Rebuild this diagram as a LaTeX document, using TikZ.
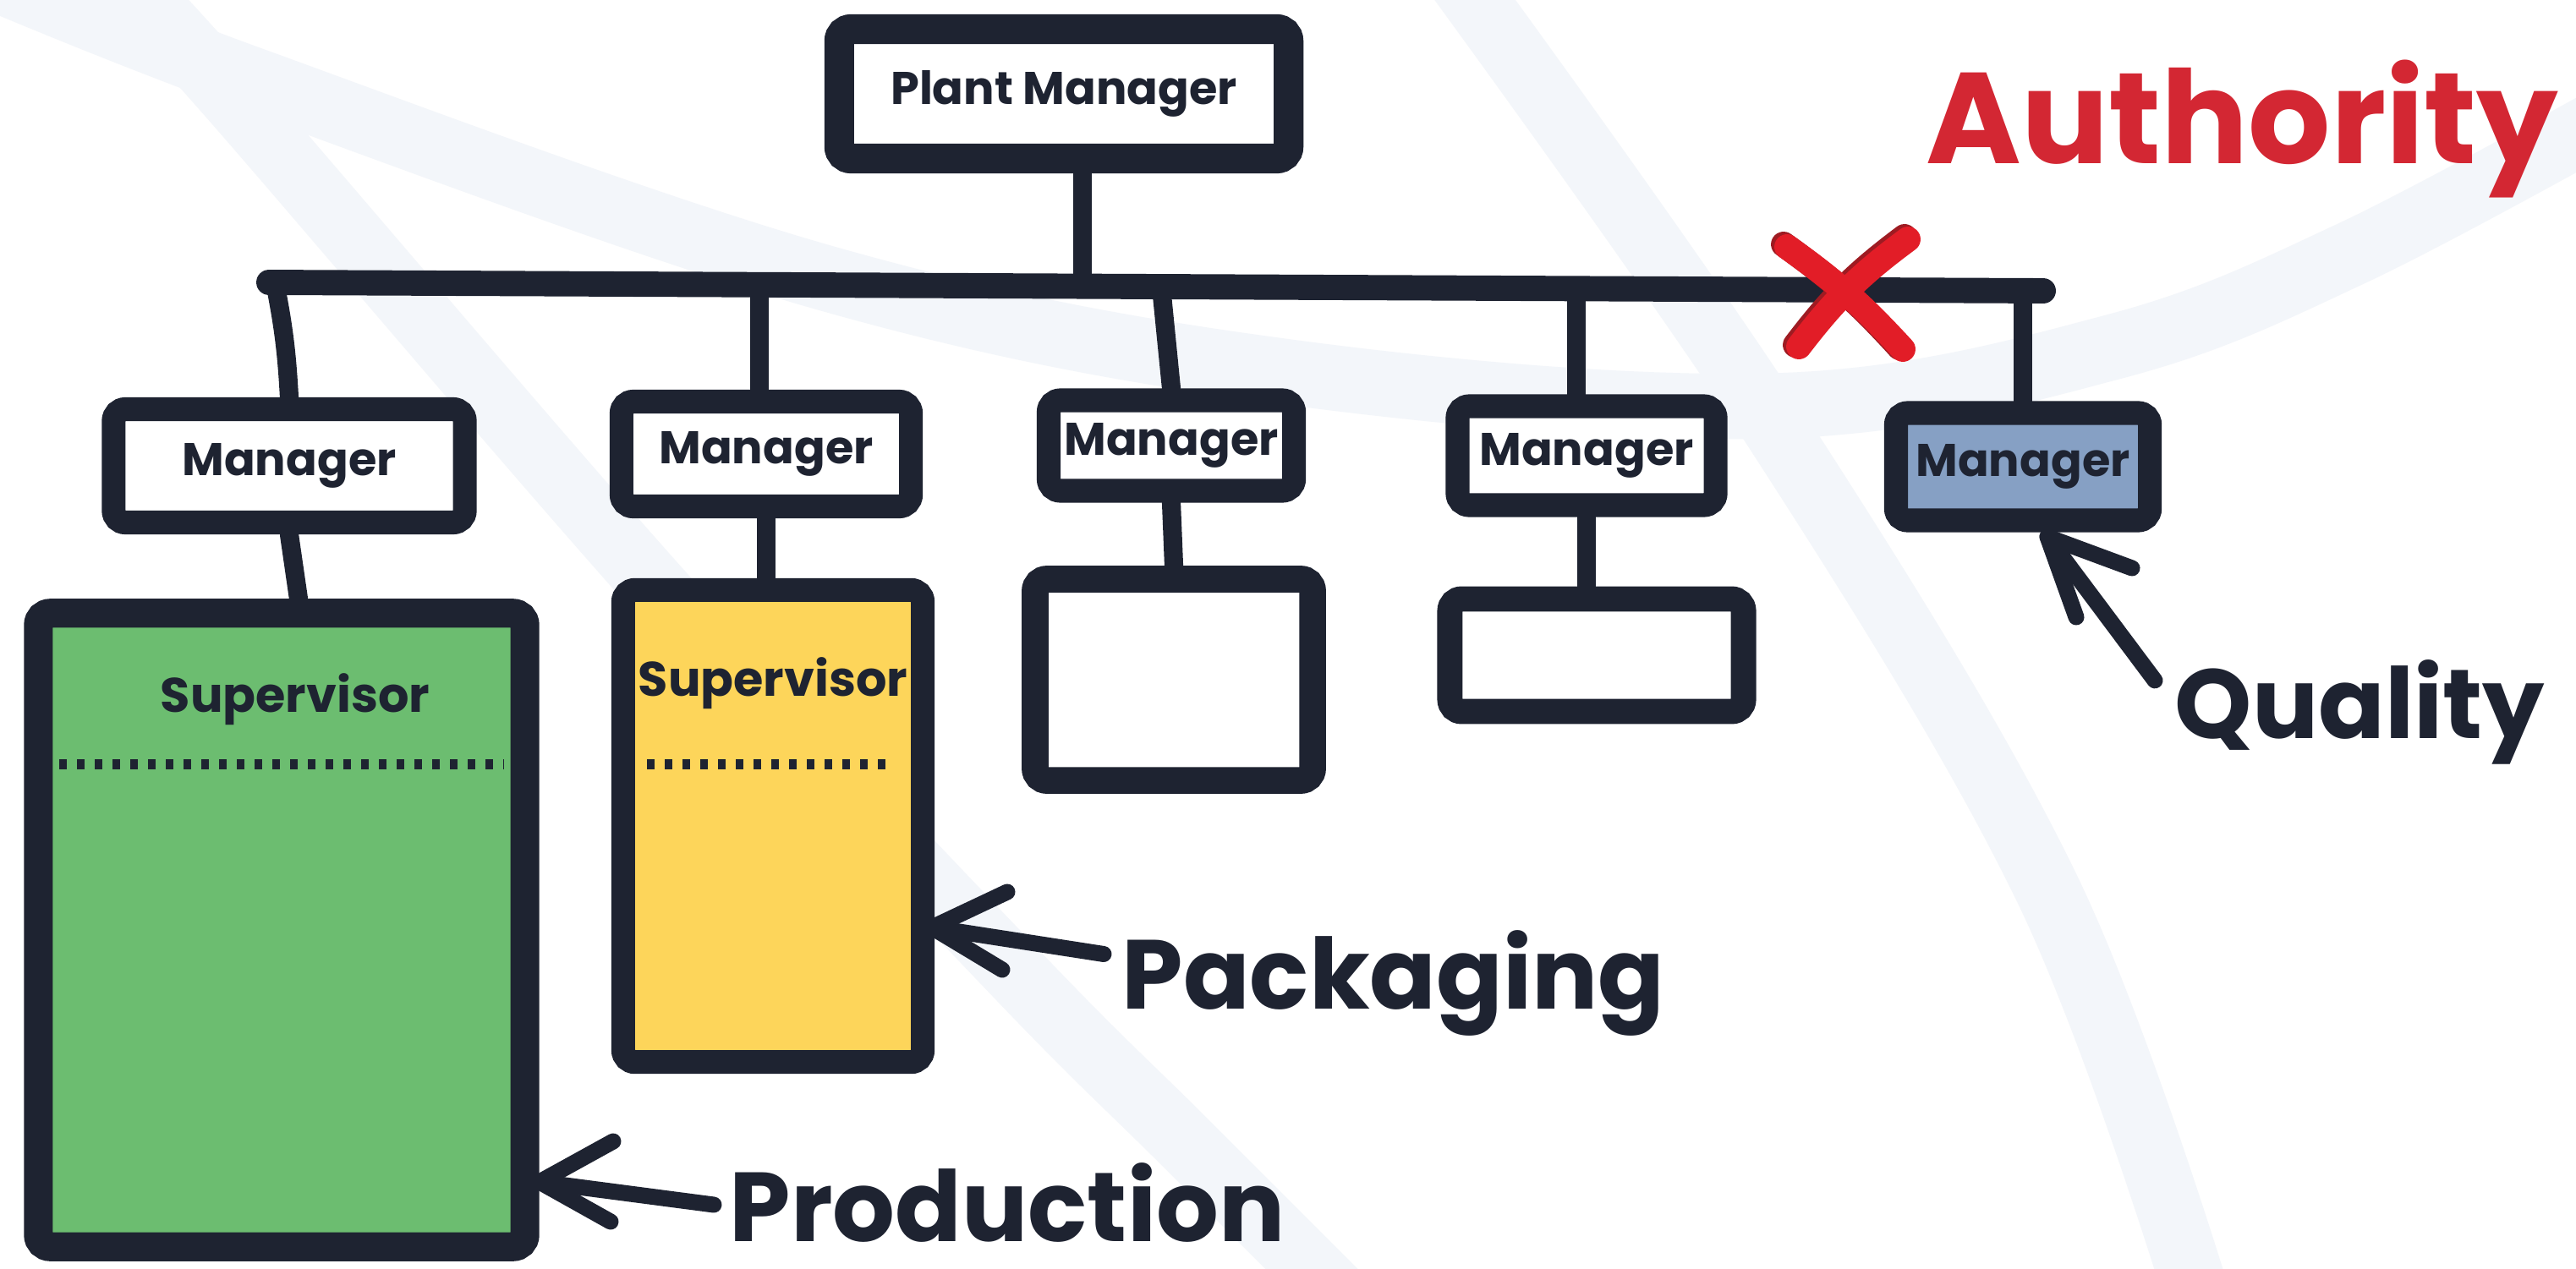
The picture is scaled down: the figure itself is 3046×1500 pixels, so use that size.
\documentclass[tikz,border=0pt]{standalone}
\usepackage{fontspec}
\setmainfont{Poppins}

\definecolor{ink}{HTML}{1E2331}
\definecolor{haze}{HTML}{F3F6FA}
\definecolor{prodgreen}{HTML}{6CBD70}
\definecolor{packyellow}{HTML}{FDD55A}
\definecolor{qualblue}{HTML}{86A0C4}
\definecolor{authred}{HTML}{D32733}
\definecolor{crossred}{HTML}{E21D27}
\definecolor{crossdark}{HTML}{9E1B22}

\begin{document}
\begin{tikzpicture}[x=0.01cm, y=-0.01cm,
        box/.style={draw=ink, fill=white, line width=8pt, rounded corners=4pt, inner sep=0pt,
            text=ink, font=\bfseries\fontsize{15.4}{18}\selectfont},
        suptext/.style={text=ink, inner sep=0pt, anchor=base, font=\bfseries\fontsize{16.3}{19}\selectfont},
        stem/.style={draw=ink, line width=6.3pt, line cap=round},
        bus/.style={draw=ink, line width=8.5pt, line cap=round},
        pointer/.style={draw=ink, line width=5.4pt, line cap=round, line join=round},
        tag/.style={text=ink, inner sep=0pt, anchor=base west, font=\bfseries\fontsize{33}{38}\selectfont},
        divider/.style={draw=ink, line width=3.4pt, dash pattern=on 0.09cm off 0.12cm},
        band/.style={draw=haze, line width=22pt},
        cross/.style={line width=8.5pt, line cap=round}]
    \useasboundingbox (0, 0) rectangle (3046, 1500);
    \fill[white] (0, 0) rectangle (3046, 1500);
    \begin{scope}
        \clip (0, 0) rectangle (3046, 1500);
        \draw[band] plot[smooth, tension=0.6] coordinates {(-40, -40) (300, 95) (980, 330) (1523, 440) (2100, 480) (2500, 410) (2780, 300) (3100, 130)};
        \draw[band] plot[smooth, tension=0.6] coordinates {(130, -40) (270, 110) (780, 700) (1200, 1150) (1400, 1350) (1600, 1550)};
        \draw[band] plot[smooth, tension=0.6] coordinates {(1715, -40) (2095, 500) (2420, 1050) (2600, 1540)};
    \end{scope}

    \coordinate (busL) at (318, 334);
    \coordinate (busR) at (2416, 344);
    \coordinate (b0) at (1280, 338);
    \coordinate (b1) at (325, 334);
    \coordinate (b2) at (898, 337);
    \coordinate (b3) at (1373, 339);
    \coordinate (b4) at (1864, 341);
    \coordinate (b5) at (2392, 344);

    \node[box, line width=10pt, minimum width=5.31cm, minimum height=1.53cm] (pm) at (1258, 111) {Plant Manager};
    \node[box, minimum width=4.15cm, minimum height=1.34cm] (m1) at (342, 551) {Manager};
    \node[box, minimum width=3.42cm, minimum height=1.24cm] (m2) at (906, 537) {Manager};
    \node[box, minimum width=2.90cm, minimum height=1.07cm] (m3) at (1385, 527) {Manager};
    \node[box, minimum width=3.05cm, minimum height=1.17cm] (m4) at (1876, 539) {Manager};
    \node[box, fill=qualblue, minimum width=3.00cm, minimum height=1.27cm] (m5) at (2392, 552) {Manager};

    \node[box, fill=prodgreen, line width=9.7pt, minimum width=5.75cm, minimum height=7.49cm] (prod) at (333, 1100) {};
    \node[box, fill=packyellow, minimum width=3.54cm, minimum height=5.58cm] (pack) at (914, 977) {};
    \node[box, line width=9pt, minimum width=3.28cm, minimum height=2.38cm] (w3) at (1388, 804) {};
    \node[box, line width=8.5pt, minimum width=3.47cm, minimum height=1.33cm] (w4) at (1888, 775) {};

    \node[suptext] (sup1) at (349, 842) {Supervisor};
    \node[suptext] (sup2) at (914, 823) {Supervisor};
    \draw[divider] (70, 904) -- (596, 904);
    \draw[divider] (765, 904) -- (1056, 904);

    \draw[bus] (busL) -- (busR);
    \draw[stem] (pm.south -| b0) -- (b0);
    \draw[stem] (b1) to[bend left=4] (m1.north);
    \draw[stem] (b2) -- (b2 |- m2.north);
    \draw[stem] (b3) -- (m3.north);
    \draw[stem] (b4) -- (b4 |- m4.north);
    \draw[stem] (b5) -- (m5.north);
    \draw[stem] (m1.south) -- ([xshift=0.2cm]prod.north);
    \draw[stem] (m2.south) -- (m2.south |- pack.north);
    \draw[stem] (m3.south) -- (w3.north);
    \draw[stem] (m4.south) -- (m4.south |- w4.north);

    \draw[cross, draw=crossdark] (2109, 289) to[bend left=6] (2246, 411);
    \draw[cross, draw=crossdark] (2252, 280) to[bend right=8] (2123, 408);
    \draw[cross, draw=crossred] (2113, 292) to[bend left=6] (2250, 413);
    \draw[cross, draw=crossred] (2256, 283) to[bend right=8] (2127, 410);

    \node[tag, text=authred, font=\bfseries\fontsize{43.5}{50}\selectfont] (auth) at (2277, 193) {Authority};
    \node[tag] (quallbl) at (2571, 873) {Quality};
    \node[tag] (packlbl) at (1326, 1193) {Packaging};
    \node[tag] (prodlbl) at (862, 1468) {Production};

    \coordinate (qualtip) at (2421, 635);
    \coordinate (packtip) at (1102, 1097);
    \coordinate (prodtip) at (638, 1398);

    \draw[pointer] ([shift={(-23, -37)}]quallbl.west) -- (qualtip);
    \draw[pointer] ([shift={(100, 37)}]qualtip) -- (qualtip) -- ([shift={(34, 95)}]qualtip);
    \draw[pointer] ([shift={(-21, -34)}]packlbl.west) -- (packtip);
    \draw[pointer] ([shift={(89, -42)}]packtip) -- (packtip) -- ([shift={(83, 50)}]packtip);
    \draw[pointer] ([shift={(-18, 3)}]prodlbl.west) -- (prodtip);
    \draw[pointer] ([shift={(87, -48)}]prodtip) -- (prodtip) -- ([shift={(84, 47)}]prodtip);
\end{tikzpicture}
\end{document}
